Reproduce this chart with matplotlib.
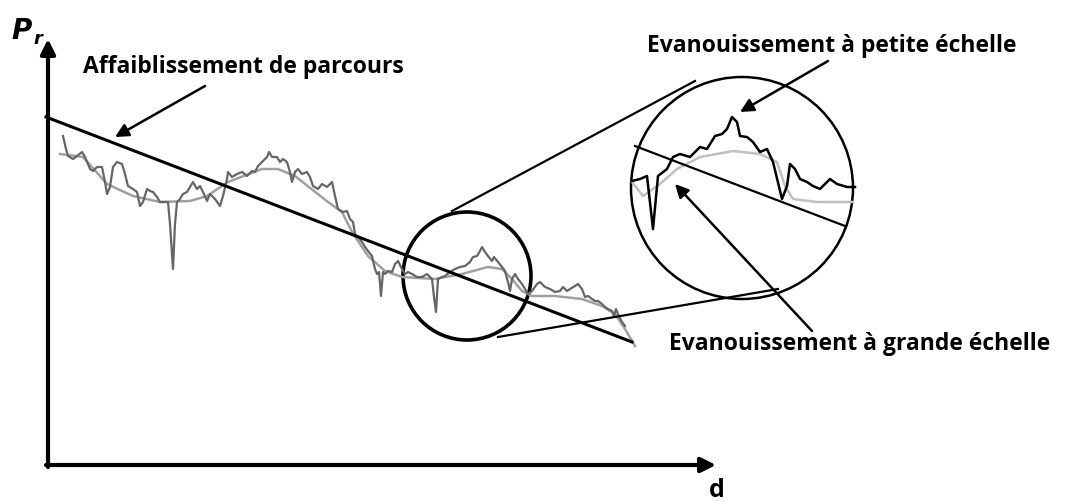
import numpy as np
import matplotlib.pyplot as plt
from matplotlib.patches import Circle

# schematic drawn in pixel space of the original picture (x right, y down)
W, H = 1066, 502

# path loss straight line
path_x = [46, 632]
path_y = [118, 343]

# large scale (shadowing) trace
shadow_x = [60, 83, 107, 133, 160, 190, 207, 228, 262, 278, 295, 328, 342, 352, 368,
            385, 402, 435, 462, 488, 502, 512, 522, 532, 555, 582, 602, 615, 625, 635]
shadow_y = [155, 158, 185, 197, 203, 202, 197, 183, 170, 170, 177, 203, 213, 233, 257,
            272, 278, 280, 275, 268, 270, 280, 292, 297, 297, 300, 307, 315, 330, 347]

# small scale (fast fading) trace
fast_x = [63, 66, 68, 73, 77, 82, 85, 88, 90, 93, 97, 102, 105, 107, 110, 113, 117, 122,
          125, 128, 133, 137, 140, 143, 147, 150, 153, 157, 160, 165, 168, 170, 173, 175,
          177, 180, 183, 187, 190, 193, 197, 200, 203, 207, 210, 215, 220, 223, 227, 228,
          232, 237, 242, 247, 252, 255, 258, 262, 267, 269, 272, 277, 280, 283, 287, 290,
          292, 295, 298, 302, 307, 310, 313, 318, 322, 327, 332, 335, 338, 343, 347, 350,
          353, 355, 358, 362, 365, 368, 372, 373, 375, 377, 379, 381, 383, 385, 388, 392,
          395, 398, 402, 405, 408, 412, 417, 422, 427, 432, 434, 436, 438, 442, 445, 450,
          455, 460, 465, 470, 473, 477, 480, 482, 485, 488, 492, 494, 498, 502, 505, 508,
          510, 512, 515, 518, 522, 525, 528, 532, 537, 540, 545, 550, 555, 560, 563, 567,
          570, 575, 578, 582, 585, 588, 592, 595, 598, 602, 605, 608, 612, 614, 616, 618,
          622, 625]
fast_y = [137, 150, 157, 160, 157, 153, 158, 165, 170, 172, 168, 168, 183, 195, 188, 168,
          163, 165, 175, 187, 190, 193, 207, 203, 190, 192, 193, 198, 203, 203, 203, 225,
          270, 225, 203, 200, 195, 193, 188, 183, 190, 187, 193, 202, 195, 200, 207, 197,
          180, 173, 178, 175, 173, 177, 172, 173, 167, 163, 158, 153, 158, 158, 163, 160,
          163, 173, 183, 173, 170, 175, 173, 178, 187, 190, 185, 188, 183, 197, 210, 213,
          212, 220, 223, 235, 238, 243, 248, 252, 257, 262, 270, 275, 273, 297, 273, 275,
          272, 273, 265, 262, 270, 275, 273, 275, 278, 278, 275, 280, 298, 313, 280, 278,
          277, 273, 270, 268, 267, 263, 258, 257, 252, 248, 253, 257, 262, 258, 263, 268,
          272, 283, 292, 280, 275, 280, 285, 290, 295, 292, 285, 283, 288, 290, 293, 292,
          288, 292, 290, 287, 285, 290, 298, 297, 300, 302, 302, 305, 308, 310, 312, 317,
          310, 315, 323, 327]

# magnified view (inside the big circle)
zoom_line_x = [635, 845]
zoom_line_y = [147, 227]
zoom_shadow_x = [632, 643, 660, 677, 700, 733, 760, 777, 785, 793, 817, 853]
zoom_shadow_y = [183, 197, 185, 170, 158, 152, 155, 163, 187, 200, 203, 203]
zoom_fast_x = [632, 640, 647, 653, 658, 667, 673, 680, 690, 700, 707, 715, 722, 727, 732,
               737, 740, 747, 753, 760, 767, 773, 782, 787, 790, 795, 800, 807, 813, 820,
               830, 837, 847, 855]
zoom_fast_y = [182, 180, 177, 230, 177, 170, 158, 155, 158, 148, 150, 137, 135, 130, 118,
               123, 137, 138, 143, 153, 150, 163, 200, 187, 165, 170, 180, 183, 187, 190,
               180, 185, 188, 188]

# circles and connectors
small_circle = (467, 277, 64)
big_circle = (742, 189, 111)
upper_link_x, upper_link_y = [452, 695], [212, 82]
lower_link_x, lower_link_y = [498, 778], [338, 290]

labels = {
    'path': ('Affaiblissement de parcours', 83, 67, (205, 87), (115, 138)),
    'small': ('Evanouissement à petite échelle', 647, 46, (828, 62), (740, 113)),
    'large': ('Evanouissement à grande échelle', 669, 344, (812, 332), (675, 185)),
}

plt.rcParams['font.family'] = ['Open Sans', 'DejaVu Sans']

fig = plt.figure(figsize=(W / 100, H / 100), dpi=100)
ax = fig.add_axes([0, 0, 1, 1])
ax.set_xlim(0, W)
ax.set_ylim(H, 0)
ax.axis('off')

# axes of the sketch
ax.annotate('', xy=(48, 40), xytext=(48, 468),
            arrowprops=dict(arrowstyle='-|>', color='black', lw=3, mutation_scale=22,
                            shrinkA=0, shrinkB=0))
ax.annotate('', xy=(716, 466), xytext=(46, 466),
            arrowprops=dict(arrowstyle='-|>', color='black', lw=3, mutation_scale=22,
                            shrinkA=0, shrinkB=0))
ax.text(11, 39, 'P', fontsize=20, fontweight='bold', fontstyle='italic', ha='left', va='baseline',
        family='DejaVu Sans')
ax.text(33, 44, 'r', fontsize=13, fontweight='bold', fontstyle='italic', ha='left', va='baseline',
        family='DejaVu Sans')
ax.text(717, 497, 'd', fontsize=18, fontweight='bold', ha='center', va='baseline')

# main traces
ax.plot(shadow_x, shadow_y, color='#a0a0a0', lw=1.8, solid_joinstyle='round')
ax.plot(fast_x, fast_y, color='#666666', lw=1.6, solid_joinstyle='round')
ax.plot(path_x, path_y, color='black', lw=2.2)

# zoom circles
ax.add_patch(Circle(small_circle[:2], small_circle[2], fill=False, ec='black', lw=2.6))
ax.add_patch(Circle(big_circle[:2], big_circle[2], fill=False, ec='black', lw=1.8))
ax.plot(upper_link_x, upper_link_y, color='black', lw=1.6)
ax.plot(lower_link_x, lower_link_y, color='black', lw=1.6)

# magnified content
ax.plot(zoom_shadow_x, zoom_shadow_y, color='#c0c0c0', lw=1.8)
ax.plot(zoom_line_x, zoom_line_y, color='black', lw=1.6)
ax.plot(zoom_fast_x, zoom_fast_y, color='black', lw=1.8, solid_joinstyle='round')

# labels and arrows
for text, tx, ty, tail, head in labels.values():
    ax.text(tx, ty, text, fontsize=16.5, fontweight='bold', ha='left', va='center')
    ax.annotate('', xy=head, xytext=tail,
                arrowprops=dict(arrowstyle='-|>', color='black', lw=1.8, mutation_scale=20,
                                shrinkA=0, shrinkB=0))

fig.savefig('out.png', dpi=100)
